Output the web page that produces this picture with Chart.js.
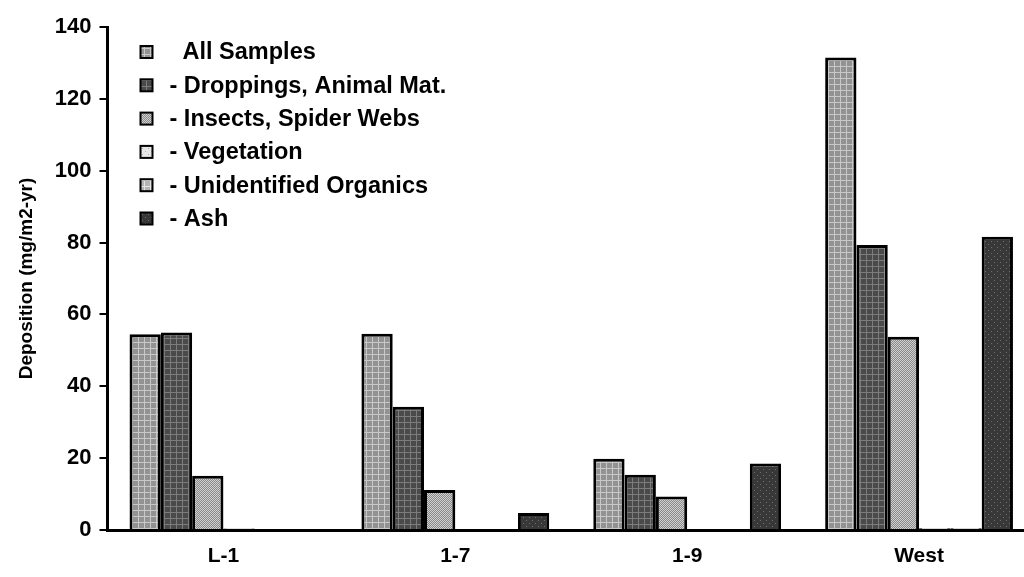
<!DOCTYPE html>
<html>
<head>
<meta charset="utf-8">
<script src="https://cdn.jsdelivr.net/npm/chart.js@4"></script>
<style>
  html, body { margin: 0; padding: 0; background: #fff; }
  #wrap { width: 1024px; height: 577px; }
</style>
</head>
<body>
<div id="wrap"><canvas id="chart" width="1024" height="577"></canvas></div>
<script>
// Data
const sites = ['L-1', '1-7', '1-9', 'West'];
const seriesNames = ['  All Samples', '- Droppings, Animal Mat.', '- Insects, Spider Webs', '- Vegetation', '- Unidentified Organics', '- Ash'];
const allSamples = [54.5, 54.6, 19.8, 131.5];
const droppings = [55.0, 34.3, 15.4, 79.3];
const insects = [15.1, 11.1, 9.3, 53.8];
const vegetation = [0.4, 0.3, 0.3, 0.5];
const unidentified = [0.3, 0.3, 0.3, 0.5];
const ash = [0, 4.7, 18.5, 81.6];
const yTicks = [0, 20, 40, 60, 80, 100, 120, 140];

const FONT = 'Arial, "Liberation Sans", sans-serif';

// Gray hatch fills like the old print chart
function makePattern(bg, fg, kind) {
    let c = document.createElement('canvas');
    c.width = 6; c.height = 6;
    let g = c.getContext('2d');
    g.fillStyle = bg;
    g.fillRect(0, 0, 6, 6);
    g.fillStyle = fg;
    if (kind === 'grid') {
        g.fillRect(0, 0, 6, 1);
        g.fillRect(0, 0, 1, 6);
    } else if (kind === 'plaid') {
        g.fillRect(0, 2, 6, 1);
        g.fillRect(2, 0, 1, 6);
    } else if (kind === 'checker') {
        for (let i = 0; i < 6; i++)
            for (let j = 0; j < 6; j++)
                if ((i + j) % 2 === 0) g.fillRect(i, j, 1, 1);
    } else {
        g.fillRect(1, 1, 1, 1);
        g.fillRect(4, 4, 1, 1);
    }
    return g.createPattern(c, 'repeat');
}

const fills = [
    makePattern('#929292', '#c8c8c8', 'grid'),
    makePattern('#4a4a4a', '#7c7c7c', 'plaid'),
    makePattern('#8a8a8a', '#d0d0d0', 'checker'),
    makePattern('#e6e6e6', '#b0b0b0', 'dots'),
    makePattern('#b4b4b4', '#e4e4e4', 'grid'),
    makePattern('#383838', '#6e6e6e', 'dots')
];
const seriesData = [allSamples, droppings, insects, vegetation, unidentified, ash];

// Legend drawn inside the plot area, top left
const innerLegend = {
    id: 'innerLegend',
    afterDraw(chart) {
        const ctx = chart.ctx;
        const area = chart.chartArea;
        ctx.save();
        ctx.font = 'bold 23.5px ' + FONT;
        ctx.textBaseline = 'middle';
        chart.data.datasets.forEach((ds, i) => {
            let y = area.top + 25 + i * 33.3;
            let x = area.left + 33;
            ctx.fillStyle = ds.backgroundColor;
            ctx.fillRect(x, y - 6, 12, 12);
            ctx.lineWidth = 2;
            ctx.strokeStyle = '#000';
            ctx.strokeRect(x, y - 6, 12, 12);
            ctx.fillStyle = '#000';
            ctx.fillText(ds.label, x + 29, y + 1);
        });
        ctx.restore();
    }
};

// The original plot runs a little past the right edge of the picture
const EXTRA_RIGHT = 11;
const widenPlot = {
    id: 'widenPlot',
    afterLayout(chart) {
        const x = chart.scales.x;
        x.right += EXTRA_RIGHT;
        x.width += EXTRA_RIGHT;
        chart.chartArea.right += EXTRA_RIGHT;
        chart.chartArea.width += EXTRA_RIGHT;
        x.configure();
    }
};

new Chart(document.getElementById('chart'), {
    type: 'bar',
    data: {
        labels: sites,
        datasets: seriesNames.map((name, i) => ({
            label: name,
            data: seriesData[i],
            backgroundColor: fills[i],
            borderColor: '#000',
            borderWidth: 3,
            borderSkipped: 'bottom',
            barPercentage: 1.0,
            categoryPercentage: 0.81
        }))
    },
    options: {
        responsive: false,
        animation: false,
        layout: { padding: { top: 27, right: 0, left: 11, bottom: 0 } },
        plugins: {
            legend: { display: false },
            tooltip: { enabled: false }
        },
        scales: {
            x: {
                grid: { display: false, drawTicks: false },
                border: { color: '#000', width: 3 },
                afterFit: (scale) => { scale.height = 47; },
                ticks: {
                    color: '#000',
                    padding: 14,
                    font: { family: FONT, size: 21, weight: 'bold' }
                }
            },
            y: {
                min: 0,
                max: 140,
                afterBuildTicks: (axis) => { axis.ticks = yTicks.map(v => ({ value: v })); },
                grid: { display: true, drawOnChartArea: false, drawTicks: true, tickLength: 8, color: '#000', lineWidth: 2 },
                border: { color: '#000', width: 3 },
                ticks: {
                    color: '#000',
                    padding: 8,
                    font: { family: FONT, size: 22, weight: 'bold' }
                },
                title: {
                    display: true,
                    text: 'Deposition (mg/m2-yr)',
                    color: '#000',
                    padding: { bottom: 9 },
                    font: { family: FONT, size: 19, weight: 'bold' }
                }
            }
        }
    },
    plugins: [innerLegend, widenPlot]
});
</script>
</body>
</html>
